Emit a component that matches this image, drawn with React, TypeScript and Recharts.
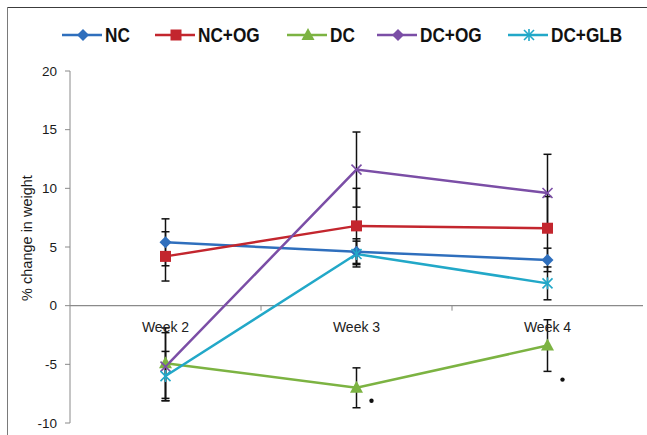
import React from "react";
import { LineChart, Line, XAxis, YAxis, ErrorBar, ReferenceLine } from "recharts";

const weeks = ["Week 2", "Week 3", "Week 4"];
const nc = [5.4, 4.6, 3.9];
const ncErr = [2.0, 1.1, 1.0];
const ncOg = [4.2, 6.8, 6.6];
const ncOgErr = [2.1, 3.2, 2.7];
const dc = [-4.9, -7.0, -3.4];
const dcErr = [3.0, 1.7, 2.2];
const dcOg = [-5.2, 11.6, 9.6];
const dcOgErr = [2.9, 3.2, 3.3];
const dcGlb = [-6.0, 4.4, 1.9];
const dcGlbErr = [2.1, 1.1, 1.4];
const significance = [null, -8.1, -6.3];
const yTicks = [-10, -5, 0, 5, 10, 15, 20];

const W = 647;
const H = 435;
const MARGIN = { top: 71, right: 4, bottom: 11, left: 0 };
const Y_MIN = -10;
const Y_MAX = 20;
const PLOT_H = H - MARGIN.top - MARGIN.bottom - 1;
const ZERO_Y = MARGIN.top + (PLOT_H * Y_MAX) / (Y_MAX - Y_MIN);
const HALF_BAND = (W - 70 - MARGIN.right) / 6;
const LEGEND_LEFT = [62, 155, 287, 377, 508];

const data = weeks.map((week, i) => ({
  week,
  nc: nc[i],
  ncErr: ncErr[i],
  ncOg: ncOg[i],
  ncOgErr: ncOgErr[i],
  dc: dc[i],
  dcErr: dcErr[i],
  dcOg: dcOg[i],
  dcOgErr: dcOgErr[i],
  dcGlb: dcGlb[i],
  dcGlbErr: dcGlbErr[i],
  sig: significance[i],
}));

type Shape = "diamond" | "square" | "triangle" | "cross" | "star";

const SERIES: { key: string; err: string; name: string; color: string; shape: Shape; legendShape: Shape }[] = [
  { key: "nc", err: "ncErr", name: "NC", color: "#2f6fbd", shape: "diamond", legendShape: "diamond" },
  { key: "ncOg", err: "ncOgErr", name: "NC+OG", color: "#c3262e", shape: "square", legendShape: "square" },
  { key: "dc", err: "dcErr", name: "DC", color: "#7cb342", shape: "triangle", legendShape: "triangle" },
  { key: "dcOg", err: "dcOgErr", name: "DC+OG", color: "#7b4ea6", shape: "cross", legendShape: "diamond" },
  { key: "dcGlb", err: "dcGlbErr", name: "DC+GLB", color: "#22a8c8", shape: "star", legendShape: "star" },
];

const marker = (shape: Shape, cx: number, cy: number, color: string, key?: string) => {
  switch (shape) {
    case "diamond":
      return <polygon key={key} points={`${cx},${cy - 6} ${cx + 6},${cy} ${cx},${cy + 6} ${cx - 6},${cy}`} fill={color} />;
    case "square":
      return <rect key={key} x={cx - 5.5} y={cy - 5.5} width={11} height={11} fill={color} />;
    case "triangle":
      return <polygon key={key} points={`${cx},${cy - 7} ${cx + 6.5},${cy + 5} ${cx - 6.5},${cy + 5}`} fill={color} />;
    case "cross":
      return (
        <g key={key} stroke={color} strokeWidth={1.6}>
          <line x1={cx - 5} y1={cy - 5} x2={cx + 5} y2={cy + 5} />
          <line x1={cx - 5} y1={cy + 5} x2={cx + 5} y2={cy - 5} />
        </g>
      );
    default:
      return (
        <g key={key} stroke={color} strokeWidth={1.6}>
          <line x1={cx - 5} y1={cy - 5} x2={cx + 5} y2={cy + 5} />
          <line x1={cx - 5} y1={cy + 5} x2={cx + 5} y2={cy - 5} />
          <line x1={cx} y1={cy - 6} x2={cx} y2={cy + 6} />
        </g>
      );
  }
};

const makeDot = (shape: Shape, color: string) => (props: any) => {
  const { cx, cy, index } = props;
  if (cx == null || cy == null) return <g key={`d-${index}`} />;
  return marker(shape, cx, cy, color, `d-${index}`);
};

const SigDot = (props: any) => {
  const { cx, cy, index, value } = props;
  if (cx == null || cy == null || value == null) return <g key={`s-${index}`} />;
  return <circle key={`s-${index}`} cx={cx + 15} cy={cy} r={2.2} fill="#111" />;
};

const WeekTick = (props: any) => {
  const { x, index, payload } = props;
  return (
    <g>
      {index > 0 && <line x1={x - HALF_BAND} y1={ZERO_Y} x2={x - HALF_BAND} y2={ZERO_Y + 5} stroke="#8a8a8a" />}
      <text x={x} y={ZERO_Y + 26} textAnchor="middle" fontSize={14} fill="#222" fontFamily="Liberation Sans, Arial, sans-serif">
        {payload.value}
      </text>
    </g>
  );
};

const YLabel = () => (
  <text
    x={27}
    y={238}
    transform="rotate(-90 27 238)"
    textAnchor="middle"
    dominantBaseline="central"
    fontSize={14.5}
    fill="#1a1a1a"
    fontFamily="Liberation Sans, Arial, sans-serif"
  >
    % change in weight
  </text>
);

const Legend = () => (
  <>
    {SERIES.map((s, i) => (
      <div
        key={s.key}
        style={{
          position: "absolute",
          top: 22,
          left: LEGEND_LEFT[i],
          display: "flex",
          alignItems: "center",
          gap: 3,
          whiteSpace: "nowrap",
        }}
      >
        <svg width={40} height={26}>
          <line x1={0} y1={13} x2={40} y2={13} stroke={s.color} strokeWidth={2.5} />
          {marker(s.legendShape, 21, 13, s.color)}
        </svg>
        <span
          style={{
            display: "inline-block",
            transform: "scaleX(0.82)",
            transformOrigin: "left center",
            fontFamily: "'Liberation Sans', Arial, sans-serif",
            fontWeight: 700,
            fontSize: 21,
            color: "#111",
            lineHeight: "26px",
          }}
        >
          {s.name}
        </span>
      </div>
    ))}
  </>
);

export default function App() {
  return (
    <div style={{ position: "absolute", top: 0, left: 0, width: W, height: H, background: "#fff", overflow: "hidden" }}>
      <div style={{ position: "absolute", top: 7, left: 7, right: 0, height: 0, borderTop: "1.5px solid #3c3c3c" }} />
      <div style={{ position: "absolute", top: 7, left: 7, bottom: 0, width: 0, borderLeft: "1.5px solid #7a7a7a" }} />
      <Legend />
      <div style={{ position: "absolute", top: 0, left: 0 }}>
        <LineChart width={W} height={H} data={data} margin={MARGIN}>
          <XAxis
            dataKey="week"
            height={1}
            axisLine={false}
            tickLine={false}
            padding={{ left: HALF_BAND, right: HALF_BAND }}
            tick={<WeekTick />}
            interval={0}
          />
          <YAxis
            width={70}
            domain={[Y_MIN, Y_MAX]}
            ticks={yTicks}
            interval={0}
            allowDataOverflow
            axisLine={{ stroke: "#8a8a8a" }}
            tickLine={{ stroke: "#8a8a8a" }}
            tickSize={5}
            tickMargin={8}
            tick={{ fontSize: 13.5, fill: "#1a1a1a", fontFamily: "Liberation Sans, Arial, sans-serif" }}
            label={<YLabel />}
          />
          <ReferenceLine y={0} stroke="#8a8a8a" strokeWidth={1.2} />
          {SERIES.map((s) => (
            <Line
              key={s.key}
              dataKey={s.key}
              name={s.name}
              stroke={s.color}
              strokeWidth={2.5}
              dot={makeDot(s.shape, s.color)}
              activeDot={false}
              isAnimationActive={false}
            >
              <ErrorBar dataKey={s.err} width={4} stroke="#111" strokeWidth={1.5} direction="y" />
            </Line>
          ))}
          <Line dataKey="sig" stroke="none" dot={SigDot} activeDot={false} legendType="none" isAnimationActive={false} />
        </LineChart>
      </div>
    </div>
  );
}
